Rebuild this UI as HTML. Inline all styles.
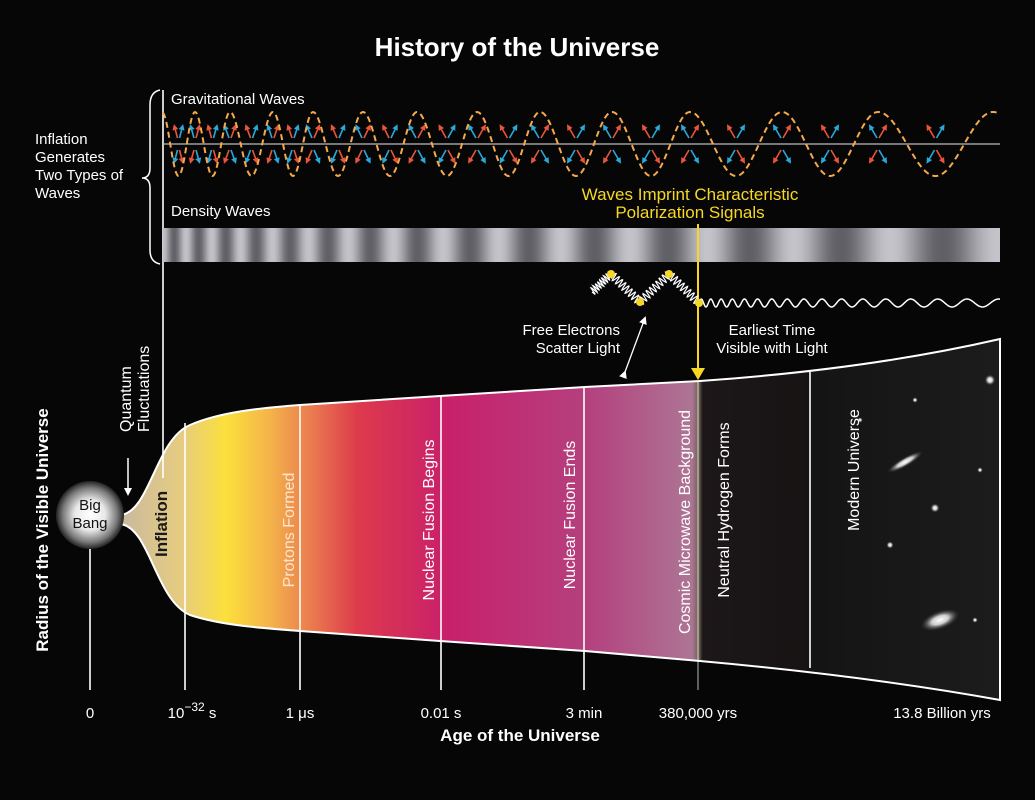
<!DOCTYPE html>
<html><head><meta charset="utf-8">
<style>
html,body{margin:0;padding:0;background:#060606;}
svg{display:block;font-family:"Liberation Sans",sans-serif;}
</style></head>
<body>
<svg id="s" width="1035" height="800" viewBox="0 0 1035 800" xmlns="http://www.w3.org/2000/svg">
<defs>
<linearGradient id="cone" x1="120" x2="1000" y1="0" y2="0" gradientUnits="userSpaceOnUse">
<stop offset="0" stop-color="#c9b9a0"/>
<stop offset="0.07" stop-color="#e6cc80"/>
<stop offset="0.12" stop-color="#fbe03c"/>
<stop offset="0.17" stop-color="#f4b44a"/>
<stop offset="0.22" stop-color="#e9784f"/>
<stop offset="0.27" stop-color="#dd3a4c"/>
<stop offset="0.37" stop-color="#c9206a"/>
<stop offset="0.53" stop-color="#b4407e"/>
<stop offset="0.65" stop-color="#ad7594"/>
<stop offset="0.658" stop-color="#6a6050"/>
<stop offset="0.662" stop-color="#1c1718"/>
<stop offset="0.785" stop-color="#171314"/>
<stop offset="0.787" stop-color="#141414"/>
<stop offset="1" stop-color="#1c1c1c"/>
</linearGradient>
<radialGradient id="bb" cx="0.5" cy="0.5" r="0.5">
<stop offset="0" stop-color="#fff"/>
<stop offset="0.45" stop-color="#e8e8e8"/>
<stop offset="0.8" stop-color="#7a7a7a"/>
<stop offset="1" stop-color="#222"/>
</radialGradient>
<radialGradient id="star" cx="0.5" cy="0.5" r="0.5">
<stop offset="0" stop-color="#fff"/>
<stop offset="0.4" stop-color="#ccc"/>
<stop offset="1" stop-color="#000" stop-opacity="0"/>
</radialGradient>
<marker id="ah" markerWidth="8" markerHeight="8" refX="6" refY="4" orient="auto" markerUnits="userSpaceOnUse"><path d="M0,0 L8,4 L0,8 z" fill="#fff"/></marker>
<marker id="ahy" markerWidth="12" markerHeight="14" refX="10" refY="7" orient="auto" markerUnits="userSpaceOnUse"><path d="M0,0 L12,7 L0,14 z" fill="#f7d726"/></marker>
<marker id="ar" markerWidth="6" markerHeight="6" refX="4" refY="3" orient="auto" markerUnits="userSpaceOnUse"><path d="M0,0 L6,3 L0,6 z" fill="#e8553c"/></marker>
<marker id="ab" markerWidth="6" markerHeight="6" refX="4" refY="3" orient="auto" markerUnits="userSpaceOnUse"><path d="M0,0 L6,3 L0,6 z" fill="#2aa8d8"/></marker>
</defs>
<rect width="1035" height="800" fill="#060606"/>
<text x="517" y="56" fill="#fff" font-size="26" font-weight="bold" text-anchor="middle">History of the Universe</text>

<path id="conep" fill="url(#cone)" stroke="#fff" stroke-width="2"
 d="M120,515 C150,513 155,440 190,425 C220,412 260,408 300,405 L440,396 L585,387 L700,381 C800,374 900,362 1000,339 L1000,700 C900,682 800,670 700,661 L585,651 L440,641 L300,631 C260,628 220,625 190,615 C155,600 150,527 120,524 Z"/>
<g id="stars"></g>
<g stroke="#fff" stroke-width="1.6">
<line x1="90" y1="530" x2="90" y2="690"/>
<line x1="185" y1="423" x2="185" y2="690"/>
<line x1="300" y1="405" x2="300" y2="690"/>
<line x1="441" y1="396" x2="441" y2="690"/>
<line x1="584" y1="387" x2="584" y2="690"/>
<line x1="810" y1="372" x2="810" y2="668"/>
<line x1="163" y1="90" x2="163" y2="478"/>
</g>
<line x1="698" y1="381" x2="698" y2="690" stroke="#fff" stroke-width="1.2" opacity="0.6"/>
<circle cx="90" cy="515" r="34" fill="url(#bb)"/>
<text x="90" y="510" font-size="15" text-anchor="middle" fill="#111">Big</text>
<text x="90" y="528" font-size="15" text-anchor="middle" fill="#111">Bang</text>

<g font-size="16" fill="#fff">
<text transform="translate(131,432) rotate(-90)" text-anchor="start">Quantum</text>
<text transform="translate(149,432) rotate(-90)" text-anchor="start">Fluctuations</text>
<text transform="translate(167,557) rotate(-90)" font-weight="bold" font-size="17" fill="#1a1a1a">Inflation</text>
<text transform="translate(294,530) rotate(-90)" text-anchor="middle" fill="#fde6d0">Protons Formed</text>
<text transform="translate(434,520) rotate(-90)" text-anchor="middle">Nuclear Fusion Begins</text>
<text transform="translate(575,515) rotate(-90)" text-anchor="middle">Nuclear Fusion Ends</text>
<text transform="translate(690,522) rotate(-90)" text-anchor="middle">Cosmic Microwave Background</text>
<text transform="translate(729,510) rotate(-90)" text-anchor="middle">Neutral Hydrogen Forms</text>
<text transform="translate(859,470) rotate(-90)" text-anchor="middle">Modern Universe</text>
</g>
<line x1="128" y1="458" x2="128" y2="494" stroke="#fff" stroke-width="1.5" marker-end="url(#ah)"/>

<text transform="translate(48,530) rotate(-90)" text-anchor="middle" font-size="17" font-weight="bold" fill="#fff">Radius of the Visible Universe</text>

<g font-size="15" fill="#fff" text-anchor="middle">
<text x="90" y="718">0</text>
<text x="192" y="718">10<tspan dy="-7" font-size="12">−32</tspan><tspan dy="7"> s</tspan></text>
<text x="300" y="718">1 μs</text>
<text x="441" y="718">0.01 s</text>
<text x="584" y="718">3 min</text>
<text x="698" y="718">380,000 yrs</text>
<text x="942" y="718">13.8 Billion yrs</text>
</g>
<text x="520" y="741" font-size="17" font-weight="bold" fill="#fff" text-anchor="middle">Age of the Universe</text>

<path d="M160,90 Q150,92 150,105 L150,168 Q150,178 142,178 Q150,178 150,188 L150,250 Q150,262 160,264" fill="none" stroke="#fff" stroke-width="1.5"/>
<g font-size="15" fill="#fff">
<text x="35" y="144">Inflation</text>
<text x="35" y="162">Generates</text>
<text x="35" y="180">Two Types of</text>
<text x="35" y="198">Waves</text>
<text x="171" y="104">Gravitational Waves</text>
<text x="171" y="216">Density Waves</text>
</g>
<line x1="163" y1="144" x2="1000" y2="144" stroke="#bbb" stroke-width="1.3"/>
<g id="arrows"></g>
<path id="grav" fill="none" stroke="#f5a94a" stroke-width="2" stroke-dasharray="6,4"/>
<rect id="densr" x="163" y="228" width="837" height="34"/>

<text x="690" y="200" font-size="17" fill="#f7d726" text-anchor="middle">Waves Imprint Characteristic</text>
<text x="690" y="218" font-size="17" fill="#f7d726" text-anchor="middle">Polarization Signals</text>
<line x1="698" y1="224" x2="698" y2="378" stroke="#f7d726" stroke-width="2" marker-end="url(#ahy)"/>
<path id="springs" fill="none" stroke="#fff" stroke-width="1.2"/>
<path id="light" fill="none" stroke="#fff" stroke-width="1.5"/>
<g fill="#f7d726"><circle cx="611" cy="274" r="4"/><circle cx="640" cy="302" r="4"/><circle cx="669" cy="274" r="4"/><circle cx="699" cy="303" r="4"/></g>
<line x1="625" y1="372" x2="645" y2="318" stroke="#fff" stroke-width="1.3" marker-end="url(#ah)" marker-start="url(#ah)"/>
<g font-size="15" fill="#fff">
<text x="620" y="335" text-anchor="end">Free Electrons</text>
<text x="620" y="353" text-anchor="end">Scatter Light</text>
<text x="772" y="335" text-anchor="middle">Earliest Time</text>
<text x="772" y="353" text-anchor="middle">Visible with Light</text>
</g>
</svg>
<script>
var NS="http://www.w3.org/2000/svg";
var peaks=[129,162,195,230,273,313,363,417,477,540,612,690,782,878,993,1110];
function phase(x){for(var i=0;i<peaks.length-1;i++){if(x<=peaks[i+1])return i+(x-peaks[i])/(peaks[i+1]-peaks[i]);}return peaks.length-1;}
function xAtPhase(p){var i=Math.floor(p);return peaks[i]+(p-i)*(peaks[i+1]-peaks[i]);}
var d="",x;
for(x=163;x<=1000;x+=1){var y=144-32*Math.cos(phase(x)*2*Math.PI);d+=(x==163?"M":"L")+x+","+y.toFixed(1);}
document.getElementById("grav").setAttribute("d",d);
// arrows: X patterns at quarter-phase points
var g=document.getElementById("arrows");
function arrow(x1,y1,x2,y2,c){var ln=document.createElementNS(NS,"line");ln.setAttribute("x1",x1);ln.setAttribute("y1",y1);ln.setAttribute("x2",x2);ln.setAttribute("y2",y2);ln.setAttribute("stroke",c);ln.setAttribute("stroke-width","1.6");ln.setAttribute("marker-end",c=="#e8553c"?"url(#ar)":"url(#ab)");g.appendChild(ln);}
var R="#e8553c",B="#2aa8d8";
for(var p=1.0;p<15;p+=0.5){var cx=xAtPhase(p);if(cx<168||cx>990)continue;var s=Math.min(8,(xAtPhase(p+0.5)-cx)/4);
 var up=(Math.round(p*2)%2==0);
 // upper X
 var c1=up?B:R,c2=up?R:B;
 arrow(cx-1,138,cx-s,126,c1); arrow(cx+1,138,cx+s,126,c2);
 arrow(cx-1,150,cx-s,162,c2); arrow(cx+1,150,cx+s,162,c1);
}
// density gradient
var grad=document.createElementNS(NS,"linearGradient");grad.setAttribute("id","dg");grad.setAttribute("gradientUnits","userSpaceOnUse");grad.setAttribute("x1","163");grad.setAttribute("x2","1000");
var ph3=0;
for(x=163;x<=1000;x+=3){var v=Math.round(145+50*Math.cos(ph3*2*Math.PI));var st=document.createElementNS(NS,"stop");st.setAttribute("offset",((x-163)/837).toFixed(4));st.setAttribute("stop-color","rgb("+v+","+v+","+(v+6)+")");grad.appendChild(st);ph3+=3/(22+(x-163)*0.11);}
document.querySelector("defs").appendChild(grad);
document.getElementById("densr").setAttribute("fill","url(#dg)");
var pts=[[592,292],[611,274],[640,302],[669,274],[699,303]],sd="";
for(var i=0;i<4;i++){var a=pts[i],b=pts[i+1],L=Math.hypot(b[0]-a[0],b[1]-a[1]),ux=(b[0]-a[0])/L,uy=(b[1]-a[1])/L;
 for(var t=0;t<=L;t+=0.5){var o=4*Math.sin(t/L*2*Math.PI*9);var px=a[0]+ux*t-uy*o,py=a[1]+uy*t+ux*o;sd+=(sd==""?"M":"L")+px.toFixed(1)+","+py.toFixed(1);}}
document.getElementById("springs").setAttribute("d",sd);
var ld="",ph4=0;
for(x=699;x<=1000;x+=0.5){var y=303-4*Math.sin(ph4*2*Math.PI);ld+=(x==699?"M":"L")+x+","+y.toFixed(1);ph4+=0.5/(9+(x-699)*0.08);}
document.getElementById("light").setAttribute("d",ld);
var sg=document.getElementById("stars");
[[905,462,22,5,-30],[940,620,22,10,-20],[935,508,5,5,0],[890,545,4,4,0],[990,380,6,6,0],[915,400,3,3,0],[860,420,3,3,0],[975,620,3,3,0],[980,470,3,3,0]].forEach(function(s){
 var e=document.createElementNS(NS,"ellipse");e.setAttribute("cx",s[0]);e.setAttribute("cy",s[1]);e.setAttribute("rx",s[2]);e.setAttribute("ry",s[3]);e.setAttribute("fill","url(#star)");e.setAttribute("transform","rotate("+s[4]+" "+s[0]+" "+s[1]+")");sg.appendChild(e);});
</script>
</body></html>
